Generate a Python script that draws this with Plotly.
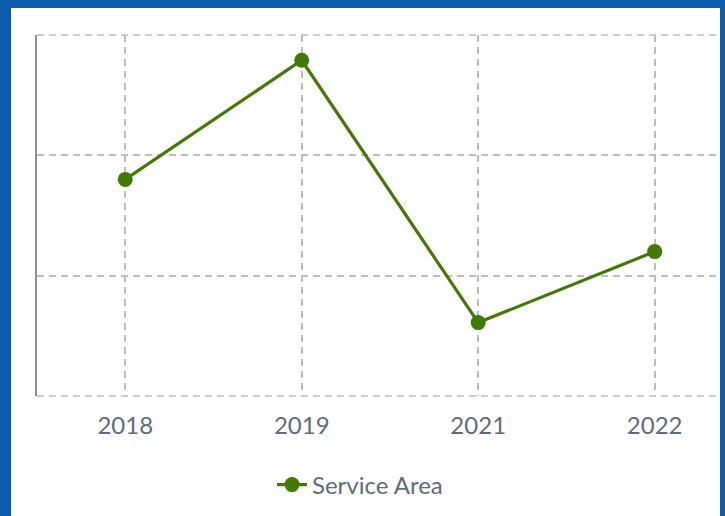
import plotly.graph_objects as go

years = ["2018", "2019", "2021", "2022"]
service_area = [1.80, 2.79, 0.61, 1.20]
series_name = "Service Area"

W, H = 725, 516
L, R, T, B = 37, 5, 35, 120
pw = W - L - R
ph = H - T - B

fig = go.Figure()
fig.add_trace(go.Scatter(
    x=years, y=service_area, name=series_name, mode="lines+markers",
    line=dict(color="#437a06", width=3.2),
    marker=dict(color="#437a06", size=15),
))

blue = "#0b5cad"
grid = "#bdbdbd"
def px_x(p):
    return (p - L) / pw
def px_y(p):
    return (H - B - p) / ph

shapes = [
    dict(type="line", xref="paper", yref="paper", x0=0, x1=1, y0=1, y1=1,
         line=dict(color=grid, width=1.5, dash="7px,5px"), layer="below"),
    dict(type="line", xref="paper", yref="paper", x0=0, x1=1, y0=0, y1=0,
         line=dict(color=grid, width=1.5, dash="7px,5px"), layer="below"),
    dict(type="rect", xref="paper", yref="paper", x0=px_x(0), x1=px_x(11), y0=px_y(H), y1=px_y(0),
         fillcolor=blue, line=dict(width=0), layer="above"),
    dict(type="rect", xref="paper", yref="paper", x0=px_x(0), x1=px_x(W), y0=px_y(8), y1=px_y(0),
         fillcolor=blue, line=dict(width=0), layer="above"),
    dict(type="rect", xref="paper", yref="paper", x0=px_x(720), x1=px_x(W), y0=px_y(H), y1=px_y(0),
         fillcolor=blue, line=dict(width=0), layer="above"),
]

fig.update_layout(
    width=W, height=H,
    margin=dict(l=L, r=R, t=T, b=B),
    paper_bgcolor="white", plot_bgcolor="white",
    font=dict(family="Lato", size=24, color="#5f6b78"),
    showlegend=True,
    legend=dict(orientation="h", x=px_x(360), xanchor="center", y=px_y(485), yanchor="middle",
                font=dict(size=24, color="#5f6b78")),
    shapes=shapes,
    xaxis=dict(
        type="category", range=[-0.5, 3.37],
        showgrid=True, gridcolor=grid, gridwidth=1.5, griddash="7px,5px",
        showline=False, zeroline=False,
        ticks="outside", ticklen=8, tickcolor="rgba(0,0,0,0)",
        tickfont=dict(size=24, color="#5f6b78"),
    ),
    yaxis=dict(
        range=[0, 3], dtick=1,
        showgrid=True, gridcolor=grid, gridwidth=1.5, griddash="7px,5px",
        showline=True, linecolor="#8a8f96", linewidth=1.5,
        zeroline=False, showticklabels=False, ticks="",
    ),
)

fig.write_html("out.html", config={"displayModeBar": False},
               post_script="document.body.style.margin='0';")
